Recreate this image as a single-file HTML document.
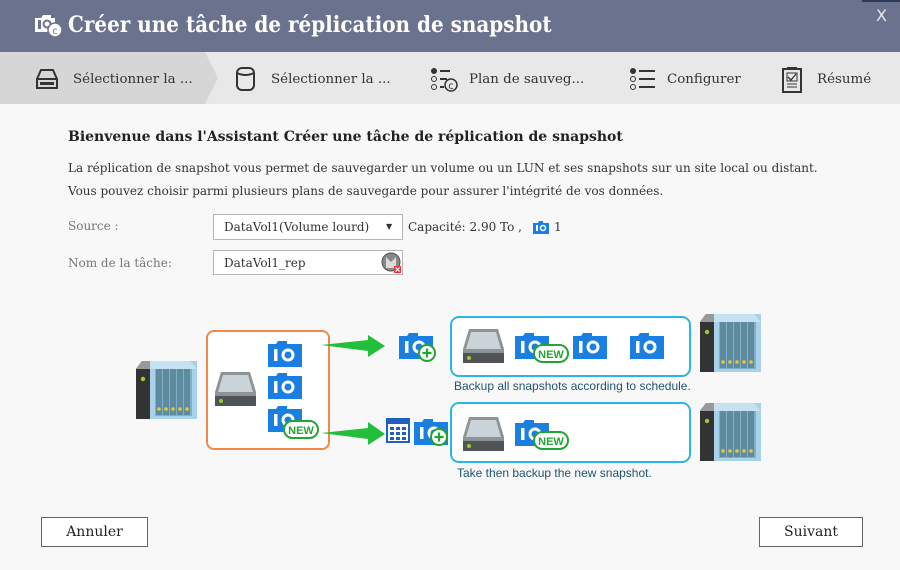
<!DOCTYPE html>
<html><head><meta charset="utf-8"><style>
*{margin:0;padding:0;box-sizing:border-box}
body{width:900px;height:570px;overflow:hidden;background:#f8f8f8;font-family:"DejaVu Serif","Liberation Serif",serif;color:#333;position:relative}
.a{position:absolute;white-space:nowrap}
.hdr{left:0;top:0;width:900px;height:52px;background:#6b728e}
.tabs{left:0;top:52px;width:900px;height:52px;background:#e8e8e8}
.t{font-size:13.4px;color:#333;top:72px}
.s{font-size:12px;color:#333}
.btn{position:absolute;border:1px solid #666;background:#fff;font-size:14px;text-align:center;line-height:28px;color:#222}
.box{position:absolute;border:1px solid #b5b5b5;background:#fff}
</style></head><body>
<div class="a hdr"></div>
<div class="a" style="left:862px;top:0;width:38px;height:2px;background:#2f3a5a"></div>
<svg class="a" style="left:34px;top:14px" width="30" height="24" viewBox="0 0 30 24"><path d="M1 4h6l2-3h8v3h4v14H1z" fill="#fff"/><rect x="4" y="6" width="3" height="9" fill="#6b728e"/><circle cx="13" cy="10" r="3.5" fill="none" stroke="#6b728e" stroke-width="2"/><circle cx="21" cy="16" r="7" fill="#fff" stroke="#6b728e" stroke-width="1.5"/><text x="21" y="20" font-size="10" text-anchor="middle" fill="#6b728e" font-family="DejaVu Sans">c</text></svg>
<div class="a" style="left:68px;top:12px;font-size:22.2px;font-weight:bold;color:#fff;font-stretch:condensed">Créer une tâche de réplication de snapshot</div>
<div class="a" style="left:876px;top:6px;font-size:16px;color:#e8e8f0;font-family:'DejaVu Sans',sans-serif">X</div>
<div class="a tabs"></div>
<svg class="a" style="left:0;top:52px" width="220" height="52"><polygon points="0,0 205,0 218,26 205,52 0,52" fill="#d6d6d6"/></svg>
<svg class="a" style="left:36px;top:68px" width="24" height="22"><path d="M5 2h12l4 9v9H1v-9z" fill="none" stroke="#333" stroke-width="2"/><line x1="1" y1="11" x2="21" y2="11" stroke="#333" stroke-width="2"/><rect x="4" y="14" width="14" height="3" fill="#333"/></svg>
<div class="a t" style="left:73px">Sélectionner la ...</div>
<svg class="a" style="left:234px;top:66px" width="24" height="26"><rect x="3" y="2" width="17" height="22" rx="5" fill="none" stroke="#333" stroke-width="2"/><path d="M3 7q8.5 4 17 0" fill="none" stroke="#333" stroke-width="2"/></svg>
<div class="a t" style="left:271px">Sélectionner la ...</div>
<svg class="a" style="left:430px;top:67px" width="30" height="26"><circle cx="4" cy="4" r="3" fill="#333"/><line x1="10" y1="4" x2="20" y2="4" stroke="#333" stroke-width="2"/><circle cx="4" cy="12" r="2.5" fill="none" stroke="#333"/><circle cx="4" cy="20" r="2.5" fill="none" stroke="#333"/><line x1="10" y1="12" x2="17" y2="12" stroke="#333" stroke-width="2"/><line x1="10" y1="20" x2="14" y2="20" stroke="#333" stroke-width="2"/><circle cx="21" cy="18" r="6" fill="#e8e8e8" stroke="#333" stroke-width="1.5"/><text x="21" y="22" font-size="10" text-anchor="middle" font-family="DejaVu Sans" fill="#333">c</text></svg>
<div class="a t" style="left:469px">Plan de sauveg...</div>
<svg class="a" style="left:630px;top:68px" width="26" height="22"><circle cx="3" cy="3" r="3" fill="#333"/><circle cx="3" cy="11" r="2.5" fill="none" stroke="#333"/><circle cx="3" cy="19" r="2.5" fill="none" stroke="#333"/><line x1="9" y1="3" x2="25" y2="3" stroke="#333" stroke-width="2"/><line x1="9" y1="11" x2="25" y2="11" stroke="#333" stroke-width="2"/><line x1="9" y1="19" x2="25" y2="19" stroke="#333" stroke-width="2"/></svg>
<div class="a t" style="left:667px">Configurer</div>
<svg class="a" style="left:781px;top:66px" width="22" height="27"><rect x="2" y="3" width="18" height="23" fill="none" stroke="#333" stroke-width="2"/><rect x="6" y="1" width="10" height="3" fill="#333"/><rect x="6" y="7" width="10" height="8" fill="none" stroke="#333"/><path d="M7 11l3 3 5-6" fill="none" stroke="#333" stroke-width="1.3"/><line x1="6" y1="18" x2="16" y2="18" stroke="#333"/><line x1="6" y1="21" x2="16" y2="21" stroke="#333"/></svg>
<div class="a t" style="left:817px">Résumé</div>

<div class="a" style="left:68px;top:129px;font-size:14px;font-weight:bold;color:#222">Bienvenue dans l'Assistant Créer une tâche de réplication de snapshot</div>
<div class="a s" style="left:68px;top:161px">La réplication de snapshot vous permet de sauvegarder un volume ou un LUN et ses snapshots sur un site local ou distant.</div>
<div class="a s" style="left:68px;top:184px">Vous pouvez choisir parmi plusieurs plans de sauvegarde pour assurer l'intégrité de vos données.</div>
<div class="a s" style="left:68px;top:219px;color:#777">Source :</div>
<div class="a s" style="left:68px;top:256px;color:#777">Nom de la tâche:</div>
<div class="box" style="left:213px;top:214px;width:190px;height:26px"></div>
<div class="a s" style="left:224px;top:220px">DataVol1(Volume lourd)</div>
<div class="a" style="left:386px;top:222px;font-size:8px;color:#333">▼</div>
<div class="a s" style="left:408px;top:220px">Capacité: 2.90 To ,</div>
<svg class="a" style="left:533px;top:221px" width="16" height="13"><path d="M0 2h5l1-2h4v2h6v11H0z" fill="#1a7fe0"/><rect x="3" y="4" width="2" height="6" fill="#fff"/><circle cx="10" cy="7" r="2.5" fill="none" stroke="#fff" stroke-width="1.5"/></svg>
<div class="a s" style="left:554px;top:220px">1</div>
<div class="box" style="left:213px;top:250px;width:190px;height:25px"></div>
<div class="a s" style="left:224px;top:256px">DataVol1_rep</div>
<svg class="a" style="left:381px;top:251px" width="22" height="23"><circle cx="10" cy="11" r="9" fill="#888" stroke="#555"/><path d="M5 6l5 5 5-5v11H5z" fill="#fff" opacity=".7"/><rect x="13" y="15" width="7" height="7" fill="#e33"/><path d="M14.5 16.5l4 4M18.5 16.5l-4 4" stroke="#fff" stroke-width="1.2"/></svg>

<svg class="a" style="left:0;top:300px" width="900" height="190">
<defs>
<g id="cam"><path d="M0 3h8l2-3h9v3h15v23H0z" fill="#1a7fe0"/><rect x="6" y="8" width="3.5" height="12" fill="#fff"/><circle cx="20" cy="14" r="5" fill="none" stroke="#fff" stroke-width="3"/></g>
<g id="new"><rect x="0" y="0" width="34" height="17" rx="8.5" fill="#fff" stroke="#22a534" stroke-width="2"/><text x="17" y="13" font-size="11" font-weight="bold" text-anchor="middle" font-family="Liberation Sans,sans-serif" fill="#22a534">NEW</text></g>
<g id="plus"><circle cx="0" cy="0" r="8" fill="#fff" stroke="#22a534" stroke-width="2"/><path d="M-4.5 0h9M0 -4.5v9" stroke="#22a534" stroke-width="2.2"/></g>
<g id="disk"><path d="M6 0h29l6 20v14H0V20z" fill="#8e9396"/><path d="M8 3h25l5 17H3z" fill="#c9d3d8"/><rect x="0" y="24" width="41" height="10" fill="#505456"/><circle cx="6" cy="29" r="2" fill="#9acd32"/></g>
<g id="nas"><path d="M0 8l6-8h8v58H0z" fill="#333"/><path d="M0 8l6-8h8v8z" fill="#999"/><rect x="14" y="0" width="47" height="58" fill="#a9d2ea"/><path d="M14 0h40l7 8H14z" fill="#c4e2f2"/><rect x="19" y="8" width="37" height="47" fill="#7fb0c6"/><g fill="#5e8c9e"><rect x="20" y="8" width="6" height="46"/><rect x="27" y="8" width="6" height="46"/><rect x="34" y="8" width="6" height="46"/><rect x="41" y="8" width="6" height="46"/><rect x="48" y="8" width="6" height="46"/></g><g fill="#e8c53a"><circle cx="23" cy="48" r="1.8"/><circle cx="30" cy="48" r="1.8"/><circle cx="37" cy="48" r="1.8"/><circle cx="44" cy="48" r="1.8"/><circle cx="51" cy="48" r="1.8"/></g><circle cx="7" cy="18" r="2.2" fill="#9acd32"/></g>
</defs>
<use href="#nas" x="136" y="61"/>
<rect x="207" y="31" width="122" height="118" rx="7" fill="#fff" stroke="#f0884a" stroke-width="2"/>
<use href="#disk" x="215" y="72"/>
<use href="#cam" x="268" y="41"/>
<use href="#cam" x="268" y="73"/>
<use href="#cam" x="268" y="106"/>
<use href="#new" x="284" y="121"/>
<polygon points="321,45 368,40 368,35 385,46 368,57 368,51" fill="#22c03a"/>
<polygon points="321,133 368,128 368,122 385,134 368,145 368,139" fill="#22c03a"/>
<use href="#cam" x="399" y="33"/>
<use href="#plus" x="427" y="53"/>
<rect x="387" y="119" width="22" height="23" fill="#fff" stroke="#1e5fbf" stroke-width="2"/>
<rect x="387" y="119" width="22" height="5" fill="#1e5fbf"/>
<g fill="#1e5fbf"><rect x="390" y="127" width="4" height="3"/><rect x="396" y="127" width="4" height="3"/><rect x="402" y="127" width="4" height="3"/><rect x="390" y="132" width="4" height="3"/><rect x="396" y="132" width="4" height="3"/><rect x="402" y="132" width="4" height="3"/><rect x="390" y="137" width="4" height="3"/><rect x="396" y="137" width="4" height="3"/><rect x="402" y="137" width="4" height="3"/></g>
<use href="#cam" x="414" y="119"/>
<use href="#plus" x="439" y="137"/>
<rect x="451" y="17" width="239" height="59" rx="8" fill="#fff" stroke="#29b6e6" stroke-width="2"/>
<use href="#disk" x="463" y="29"/>
<use href="#cam" x="515" y="33"/>
<use href="#new" x="534" y="45"/>
<use href="#cam" x="573" y="33"/>
<use href="#cam" x="630" y="33"/>
<text x="454" y="90" font-size="12" font-family="Liberation Sans,sans-serif" fill="#1f5570">Backup all snapshots according to schedule.</text>
<rect x="451" y="103" width="239" height="59" rx="8" fill="#fff" stroke="#29b6e6" stroke-width="2"/>
<use href="#disk" x="463" y="117"/>
<use href="#cam" x="515" y="120"/>
<use href="#new" x="534" y="132"/>
<text x="457" y="177" font-size="12" font-family="Liberation Sans,sans-serif" fill="#1f5570">Take then backup the new snapshot.</text>
<use href="#nas" x="700" y="14"/>
<use href="#nas" x="700" y="103"/>
</svg>

<div class="btn" style="left:41px;top:517px;width:107px;height:30px">Annuler</div>
<div class="btn" style="left:759px;top:517px;width:104px;height:30px">Suivant</div>
</body></html>
